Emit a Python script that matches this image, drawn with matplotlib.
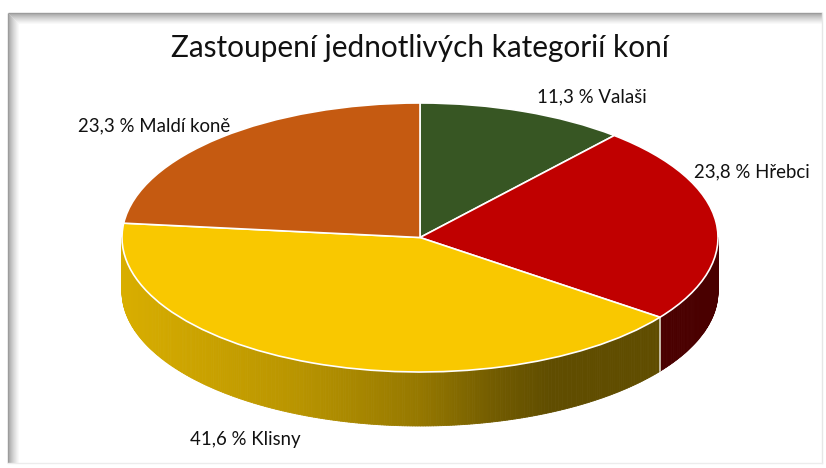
import numpy as np
import matplotlib
matplotlib.use("Agg")
import matplotlib.pyplot as plt
from matplotlib.collections import PolyCollection
from matplotlib.colors import to_rgb

# ---- data ----
categories = ['Valaši', 'Hřebci', 'Klisny', 'Maldí koně']
values = [11.3, 23.8, 41.6, 23.3]
value_labels = ['11,3 %', '23,8 %', '41,6 %', '23,3 %']
title = 'Zastoupení jednotlivých kategorií koní'
colors = ['#375623', '#C00000', '#F9C800', '#C55A11']

# ---- layout (pixels) ----
W, H = 826, 468
cx, cy, rx, ry, depth = 420, 237.5, 298, 134.5, 54
label_pos = {'Valaši': (592, 97), 'Hřebci': (752, 172),
             'Klisny': (245, 440), 'Maldí koně': (154, 126)}

plt.rcParams['font.family'] = ['Lato', 'DejaVu Sans']

fig = plt.figure(figsize=(W / 100, H / 100), dpi=100)
fig.patch.set_facecolor('white')

# background / frame axes in pixel coordinates
bg = fig.add_axes([0, 0, 1, 1], zorder=0)
bg.set_xlim(0, W)
bg.set_ylim(H, 0)
bg.axis('off')
x0, y0, x1, y1 = 8, 13, 822, 463
for i in range(12):
    g = 0.60 + 0.40 * (i / 11) ** 0.7
    bg.plot([x0 + i, x1], [y0 + i, y0 + i], color=(g, g, g), lw=1, solid_capstyle='butt')
    bg.plot([x0 + i, x0 + i], [y0 + i, y1], color=(g, g, g), lw=1, solid_capstyle='butt')
bg.plot([x1, x1], [y0, y1], color='#e6e6e6', lw=1)
bg.plot([x0, x1], [y1, y1], color='#ececec', lw=1)

# pie axes
ax = fig.add_axes([0, 0, 1, 1], zorder=1)
wedges, _ = ax.pie(values, colors=colors, startangle=90, counterclock=False,
                   radius=1, center=(0, 0),
                   wedgeprops=dict(edgecolor='white', linewidth=1.2, zorder=3))
ax.set_aspect('auto')
ax.set_xlim(-cx / rx, (W - cx) / rx)
ax.set_ylim((cy - H) / ry, cy / ry)
ax.axis('off')

d = depth / ry


def shade(c):
    return np.interp(c, [-1, -0.4, 0, 0.27, 0.44, 1],
                     [0.87, 0.74, 0.60, 0.45, 0.385, 0.385])


polys, fcs = [], []
seps = []
for w, col in zip(wedges, colors):
    base = np.array(to_rgb(col))
    t1, t2 = w.theta1, w.theta2
    for k in (-360, 0, 360):
        a = max(t1 + k, 180)
        b = min(t2 + k, 360)
        if b > a:
            n = max(2, int((b - a) * 2))
            ths = np.radians(np.linspace(a, b, n + 1))
            for i in range(n):
                ta, tb = ths[i], ths[i + 1]
                polys.append([(np.cos(ta), np.sin(ta)), (np.cos(tb), np.sin(tb)),
                              (np.cos(tb), np.sin(tb) - d), (np.cos(ta), np.sin(ta) - d)])
                f = shade(np.cos(0.5 * (ta + tb)))
                fcs.append(tuple(base * f))
            for t in (a, b):
                if 180 < t < 360:
                    seps.append(t)

pc = PolyCollection(polys, facecolors=fcs, edgecolors=fcs, linewidths=0.6, zorder=1)
ax.add_collection(pc)
for t in set(round(s, 4) for s in seps):
    tr = np.radians(t)
    ax.plot([np.cos(tr), np.cos(tr)], [np.sin(tr), np.sin(tr) - d],
            color='#d9d2c2', lw=1.2, zorder=2)

# title and labels
bg_t = fig.add_axes([0, 0, 1, 1], zorder=2)
bg_t.set_xlim(0, W)
bg_t.set_ylim(H, 0)
bg_t.axis('off')
bg_t.text(420, 48, title, ha='center', va='center', fontsize=21.4, color='#111111')
for cat, vl in zip(categories, value_labels):
    x, y = label_pos[cat]
    bg_t.text(x, y, f'{vl} {cat}', ha='center', va='center', fontsize=13.4, color='#111111')

fig.savefig('out.png', dpi=100, facecolor='white')
